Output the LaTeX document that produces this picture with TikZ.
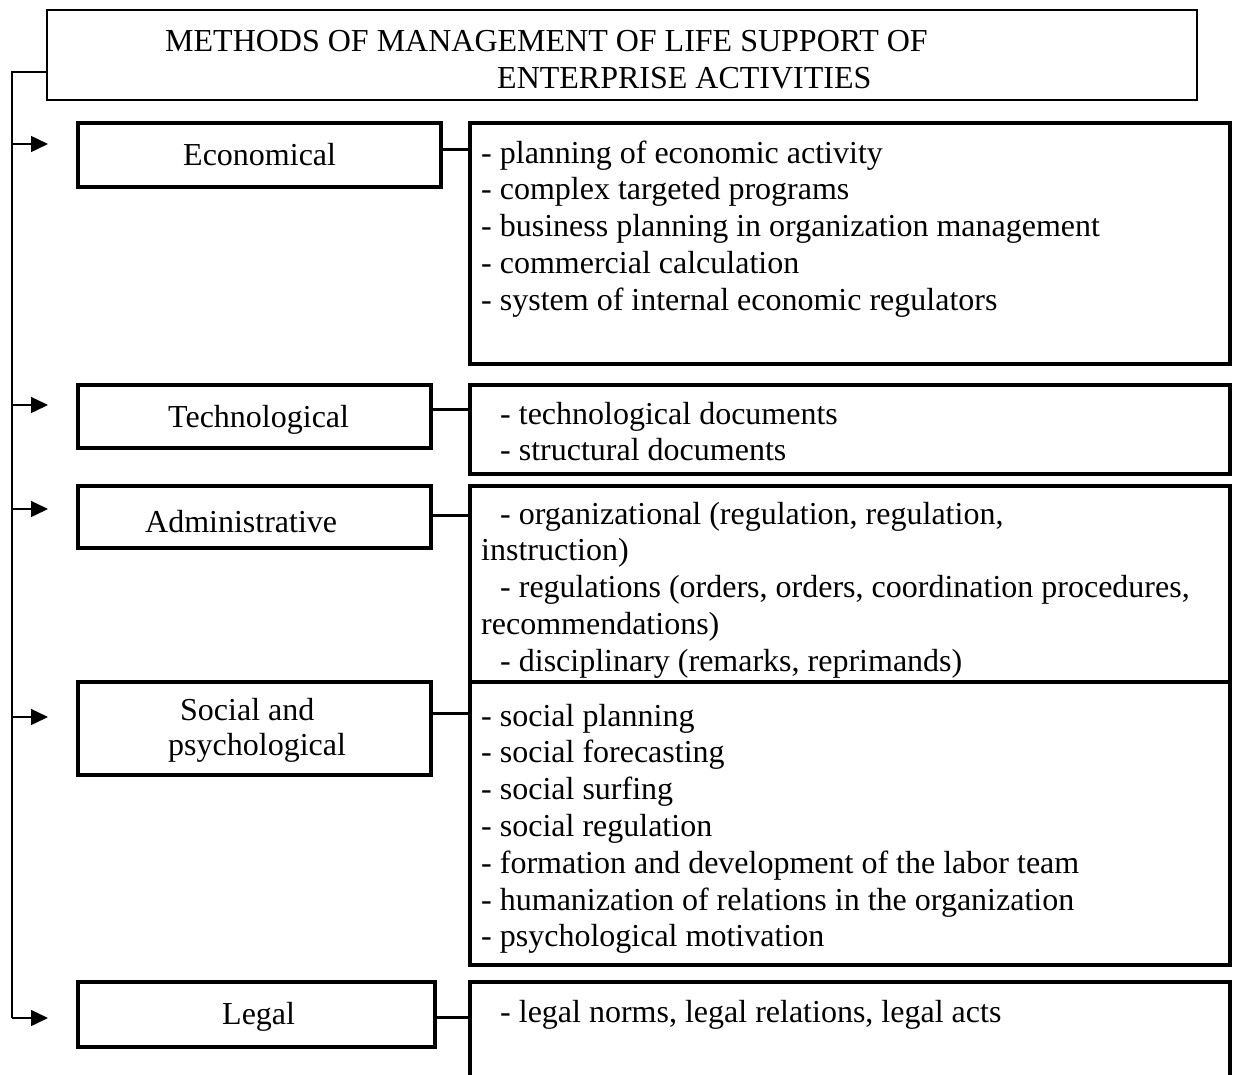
\documentclass[tikz,border=0pt]{standalone}
\usepackage{fontspec}
\setmainfont{Liberation Serif}
\usetikzlibrary{arrows.meta}
\begin{document}
\begin{tikzpicture}[x=1pt,y=-1pt,
  txt/.style={font=\fontsize{32}{36.8}\selectfont, inner sep=0pt, anchor=base west},
  thinbox/.style={draw, line width=1.5pt, inner sep=0pt, rectangle},
  thickbox/.style={draw, line width=3.5pt, inner sep=0pt, rectangle},
  link/.style={line width=3pt},
  spine/.style={line width=1.5pt},
  feed/.style={line width=1.5pt, -{Triangle[length=17pt,width=16pt]}}]
\useasboundingbox (0,0) rectangle (1238,1074);

% title box
\node[thinbox, minimum width=1150, minimum height=90] (title) at (622,55) {};
\node[txt] (t1) at (165,51) {METHODS OF MANAGEMENT OF LIFE SUPPORT OF};
\node[txt] (t2) at (497,88) {ENTERPRISE ACTIVITIES};

% method boxes
\node[thickbox, minimum width=363, minimum height=64] (eco) at (259.5,155) {};
\node[thickbox, minimum width=353, minimum height=63] (tech) at (254.5,416.5) {};
\node[thickbox, minimum width=353, minimum height=62] (adm) at (254.5,517) {};
\node[thickbox, minimum width=353, minimum height=93] (soc) at (254.5,728.5) {};
\node[thickbox, minimum width=357, minimum height=65] (leg) at (256.5,1014.5) {};

\node[txt] (eco-l) at (183,165) {Economical};
\node[txt] (tech-l) at (168,427) {Technological};
\node[txt] (adm-l) at (145,532) {Administrative};
\node[txt] (soc-l1) at (180,720) {Social and};
\node[txt] (soc-l2) at (168,755) {psychological};
\node[txt] (leg-l) at (222,1024) {Legal};

% list boxes
\node[thickbox, minimum width=760, minimum height=241] (ecolist) at (850,243.5) {};
\node[thickbox, minimum width=760, minimum height=89] (techlist) at (850,429.5) {};
\node[thickbox, minimum width=760, minimum height=196] (admlist) at (850,584) {};
\node[thickbox, minimum width=760, minimum height=283] (soclist) at (850,823.5) {};
% open-bottom list box
\coordinate (leglist-nw) at (470,982);
\coordinate (leglist-ne) at (1230,982);
\coordinate (leglist-sw) at (470,1076);
\coordinate (leglist-se) at (1230,1076);
\draw[line width=3.5pt] (leglist-sw) -- (leglist-nw) -- (leglist-ne) -- (leglist-se);

% list texts
\foreach \t [count=\i] in {- planning of economic activity,
  - complex targeted programs,
  - business planning in organization management,
  - commercial calculation,
  - system of internal economic regulators}
  \node[txt] (eco-\i) at (481,163+36.8*\i-36.8) {\t};

\node[txt] (tech-1) at (500,424) {- technological documents};
\node[txt] (tech-2) at (500,460.8) {- structural documents};

\node[txt] (adm-1) at (500,524) {- organizational (regulation, regulation,};
\node[txt] (adm-2) at (481,560.8) {instruction)};
\node[txt] (adm-3) at (500,597.6) {- regulations (orders, orders, coordination procedures,};
\node[txt] (adm-4) at (481,634.4) {recommendations)};
\node[txt] (adm-5) at (500,671.2) {- disciplinary (remarks, reprimands)};

\foreach \t [count=\i] in {- social planning,
  - social forecasting,
  - social surfing,
  - social regulation,
  - formation and development of the labor team,
  - humanization of relations in the organization,
  - psychological motivation}
  \node[txt] (soc-\i) at (481,726+36.8*\i-36.8) {\t};

\node[txt] (leg-1) at (500,1022) {- legal norms, legal relations, legal acts};

% connectors between method boxes and their lists
\draw[link] (eco.east |- 0,149) -- (ecolist.west |- 0,149);
\draw[link] (tech.east |- 0,409) -- (techlist.west |- 0,409);
\draw[link] (adm.east |- 0,515) -- (admlist.west |- 0,515);
\draw[link] (soc.east |- 0,713) -- (soclist.west |- 0,713);
\draw[link] (leg.east |- 0,1017) -- (leglist-nw |- 0,1017);

% spine from the title with arrows to each method
\coordinate (sp-top) at (12,72);
\coordinate (sp-bot) at (12,1018);
\draw[spine] (title.west |- sp-top) -- (sp-top) -- (sp-bot);
\foreach \y/\n in {144/a1,405/a2,509/a3,717/a4,1018/a5} {
  \coordinate (\n-s) at (12,\y);
  \coordinate (\n-e) at (48,\y);
  \draw[feed] (\n-s) -- (\n-e);
}
\end{tikzpicture}
\end{document}
